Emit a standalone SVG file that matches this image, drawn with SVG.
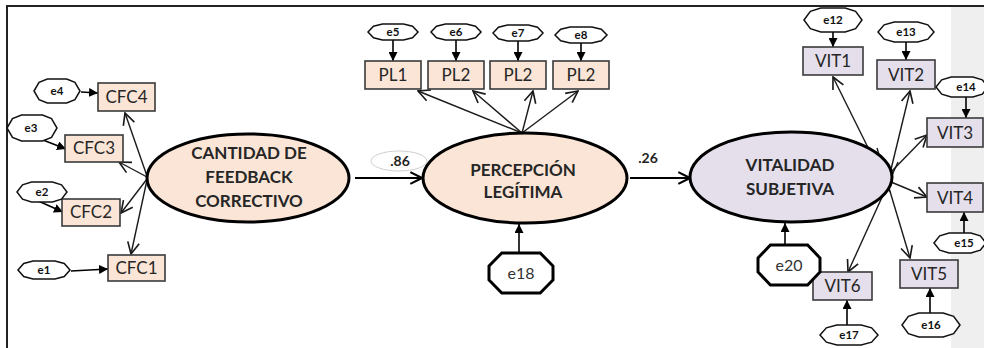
<svg xmlns="http://www.w3.org/2000/svg" xmlns:xlink="http://www.w3.org/1999/xlink" width="984" height="348" viewBox="0 0 984 348">
  <style>
    .latent { stroke: #000; stroke-width: 3; }
    .peach { fill: #fbe5d6; }
    .lilac { fill: #e5dfec; }
    .box { stroke: #3a3a3a; stroke-width: 1.6; }
    .err { fill: #fff; stroke: #111; stroke-width: 1.5; }
    .errBig { fill: #fff; stroke: #000; stroke-width: 3; }
    .title { font-family: Lato, "Open Sans", "DejaVu Sans", sans-serif; font-weight: bold; font-size: 17px; fill: #262626; text-anchor: middle; }
    .lbl { font-family: Lato, "Open Sans", "DejaVu Sans", sans-serif; font-size: 17px; fill: #262626; text-anchor: middle; }
    .elbl { font-family: Lato, "DejaVu Sans", sans-serif; font-weight: bold; font-size: 11.5px; fill: #111; text-anchor: middle; }
    .elblBig { font-family: Lato, "DejaVu Sans", sans-serif; font-size: 16px; fill: #333; text-anchor: middle; }
    .coef { font-family: Lato, "DejaVu Sans", sans-serif; font-weight: bold; font-size: 14px; fill: #222; text-anchor: middle; }
    .path { stroke: #1a1a1a; stroke-width: 1.4; fill: none; marker-end: url(#open); }
    .reg { stroke: #000; stroke-width: 2; fill: none; marker-end: url(#open2); }
    .epath { stroke: #000; stroke-width: 1.6; fill: none; marker-end: url(#solid); }
  </style>
  <defs>
    <!-- open V head for loadings -->
    <marker id="open" markerUnits="userSpaceOnUse" markerWidth="14" markerHeight="14" viewBox="0 0 12 12" refX="11" refY="6" orient="auto">
      <path d="M1,1 L11,6 L1,11" fill="none" stroke="#1a1a1a" stroke-width="1.4"/>
    </marker>
    <marker id="open2" markerUnits="userSpaceOnUse" markerWidth="14" markerHeight="14" viewBox="0 0 12 12" refX="11" refY="6" orient="auto">
      <path d="M1,1 L11,6 L1,11" fill="none" stroke="#000" stroke-width="1.8"/>
    </marker>
    <!-- filled head for error terms -->
    <marker id="solid" markerUnits="userSpaceOnUse" markerWidth="9" markerHeight="9" viewBox="0 0 10 10" refX="10" refY="5" orient="auto">
      <path d="M0,0 L10,5 L0,10 z" fill="#000"/>
    </marker>
    <!-- unit error shapes, scaled per node -->
    <polygon id="eshape" points="-1,0 -0.78,-0.72 -0.42,-1 0.42,-1 0.78,-0.72 1,0 0.78,0.72 0.42,1 -0.42,1 -0.78,0.72" vector-effect="non-scaling-stroke"/>
    <polygon id="oct" points="-1,-0.35 -0.6,-1 0.6,-1 1,-0.35 1,0.35 0.6,1 -0.6,1 -1,0.35" vector-effect="non-scaling-stroke"/>
  </defs>

  <!-- page frame and side panel -->
  <rect x="951" y="7" width="33" height="341" fill="#efefef"/>
  <line x1="6" y1="6" x2="984" y2="6" stroke="#222" stroke-width="2"/>
  <line x1="7" y1="6" x2="7" y2="348" stroke="#222" stroke-width="2"/>

  <!-- connectors -->
  <g id="connectors">
    <!-- structural paths -->
    <line class="reg" x1="355" y1="178" x2="422" y2="178"/>
    <line class="reg" x1="630" y1="178" x2="690" y2="178"/>
    <!-- CFC loadings -->
    <line class="path" x1="147" y1="176" x2="125" y2="113"/>
    <line class="path" x1="147" y1="177" x2="119" y2="162"/>
    <line class="path" x1="147" y1="179" x2="121" y2="213"/>
    <line class="path" x1="147" y1="180" x2="131" y2="254"/>
    <!-- PL loadings -->
    <line class="path" x1="522" y1="133" x2="418" y2="91"/>
    <line class="path" x1="522" y1="133" x2="473" y2="91"/>
    <line class="path" x1="522" y1="133" x2="533" y2="91"/>
    <line class="path" x1="522" y1="133" x2="578" y2="91"/>
    <!-- VIT loadings -->
    <line class="path" x1="890" y1="192" x2="833" y2="77"/>
    <line class="path" x1="886" y1="190" x2="910" y2="91"/>
    <line class="path" x1="891" y1="172" x2="927" y2="135"/>
    <line class="path" x1="891" y1="182" x2="927" y2="197"/>
    <line class="path" x1="877" y1="148" x2="910" y2="258"/>
    <line class="path" x1="898" y1="162" x2="848" y2="272"/>
    <!-- error terms -->
    <line class="epath" x1="71" y1="271" x2="108" y2="269"/>
    <line class="epath" x1="36" y1="200" x2="63" y2="212"/>
    <line class="epath" x1="43" y1="140" x2="66" y2="149"/>
    <line class="epath" x1="81" y1="92" x2="98" y2="93"/>
    <line class="epath" x1="393" y1="40" x2="393" y2="61"/>
    <line class="epath" x1="456" y1="40" x2="456" y2="61"/>
    <line class="epath" x1="518" y1="41" x2="518" y2="61"/>
    <line class="epath" x1="581" y1="43" x2="581" y2="61"/>
    <line class="epath" x1="833" y1="32" x2="833" y2="47"/>
    <line class="epath" x1="906" y1="42" x2="906" y2="60"/>
    <line class="epath" x1="966" y1="97" x2="966" y2="118"/>
    <line class="epath" x1="964" y1="233" x2="964" y2="212"/>
    <line class="epath" x1="930" y1="313" x2="930" y2="288"/>
    <line class="epath" x1="847" y1="325" x2="847" y2="300"/>
    <line class="epath" x1="785" y1="245" x2="785" y2="223"/>
    <line class="epath" x1="519" y1="253" x2="519" y2="224"/>
  </g>

  <!-- path coefficients -->
  <g id="coef86">
    <ellipse cx="399" cy="161" rx="28" ry="10" fill="none" stroke="#cfcfcf" stroke-width="1"/>
    <text class="coef" x="400" y="166">.86</text>
  </g>
  <g id="coef26">
    <text class="coef" x="648" y="163">.26</text>
  </g>

  <!-- latent variables -->
  <g id="cfc">
    <ellipse class="latent peach" cx="248" cy="178" rx="101" ry="44"/>
    <text class="title" x="249" y="159">CANTIDAD DE</text>
    <text class="title" x="249" y="183">FEEDBACK</text>
    <text class="title" x="249" y="207">CORRECTIVO</text>
  </g>
  <g id="pl">
    <ellipse class="latent peach" cx="525" cy="178" rx="102" ry="45"/>
    <text class="title" x="523" y="176">PERCEPCIÓN</text>
    <text class="title" x="523" y="198">LEGÍTIMA</text>
  </g>
  <g id="vit">
    <ellipse class="latent lilac" cx="791" cy="177" rx="101" ry="45"/>
    <text class="title" x="790" y="171">VITALIDAD</text>
    <text class="title" x="790" y="195">SUBJETIVA</text>
  </g>

  <!-- observed indicators -->
  <g id="CFC4"><rect class="box peach" x="98" y="83" width="57" height="28"/><text class="lbl" x="126.5" y="103">CFC4</text></g>
  <g id="CFC3"><rect class="box peach" x="65" y="135" width="58" height="27"/><text class="lbl" x="94" y="154">CFC3</text></g>
  <g id="CFC2"><rect class="box peach" x="62" y="199" width="58" height="27"/><text class="lbl" x="91" y="218">CFC2</text></g>
  <g id="CFC1"><rect class="box peach" x="108" y="255" width="57" height="26"/><text class="lbl" x="136.5" y="274">CFC1</text></g>

  <g id="PL1"><rect class="box peach" x="365" y="61" width="56" height="28"/><text class="lbl" x="393" y="81">PL1</text></g>
  <g id="PL2a"><rect class="box peach" x="428" y="61" width="56" height="28"/><text class="lbl" x="456" y="81">PL2</text></g>
  <g id="PL2b"><rect class="box peach" x="490" y="61" width="56" height="28"/><text class="lbl" x="518" y="81">PL2</text></g>
  <g id="PL2c"><rect class="box peach" x="553" y="61" width="56" height="28"/><text class="lbl" x="581" y="81">PL2</text></g>

  <g id="VIT1"><rect class="box lilac" x="803" y="47" width="60" height="28"/><text class="lbl" x="833" y="67">VIT1</text></g>
  <g id="VIT2"><rect class="box lilac" x="877" y="60" width="58" height="29"/><text class="lbl" x="906" y="81">VIT2</text></g>
  <g id="VIT3"><rect class="box lilac" x="927" y="118" width="56" height="29"/><text class="lbl" x="955" y="139">VIT3</text></g>
  <g id="VIT4"><rect class="box lilac" x="927" y="183" width="56" height="29"/><text class="lbl" x="955" y="204">VIT4</text></g>
  <g id="VIT5"><rect class="box lilac" x="900" y="260" width="58" height="28"/><text class="lbl" x="929" y="280">VIT5</text></g>
  <g id="VIT6"><rect class="box lilac" x="813" y="272" width="59" height="28"/><text class="lbl" x="842.5" y="292">VIT6</text></g>

  <!-- error terms -->
  <g id="e1"><use xlink:href="#eshape" class="err" transform="translate(44 270) scale(26 9)"/><text class="elbl" x="44" y="274">e1</text></g>
  <g id="e2"><use xlink:href="#eshape" class="err" transform="translate(42 192) scale(25 10)"/><text class="elbl" x="42" y="196">e2</text></g>
  <g id="e3"><use xlink:href="#eshape" class="err" transform="translate(32 128) scale(25 13)"/><text class="elbl" x="31" y="132">e3</text></g>
  <g id="e4"><use xlink:href="#eshape" class="err" transform="translate(57 91) scale(23 12)"/><text class="elbl" x="57" y="95">e4</text></g>
  <g id="e5"><use xlink:href="#eshape" class="err" transform="translate(393 32) scale(25 8)"/><text class="elbl" x="393" y="36">e5</text></g>
  <g id="e6"><use xlink:href="#eshape" class="err" transform="translate(456 32) scale(25 8)"/><text class="elbl" x="456" y="36">e6</text></g>
  <g id="e7"><use xlink:href="#eshape" class="err" transform="translate(518 33) scale(25 8)"/><text class="elbl" x="518" y="37">e7</text></g>
  <g id="e8"><use xlink:href="#eshape" class="err" transform="translate(581 35) scale(26 8)"/><text class="elbl" x="581" y="39">e8</text></g>
  <g id="e12"><use xlink:href="#eshape" class="err" transform="translate(833 20) scale(29 12)"/><text class="elbl" x="833" y="24">e12</text></g>
  <g id="e13"><use xlink:href="#eshape" class="err" transform="translate(906 32) scale(28 10)"/><text class="elbl" x="906" y="36">e13</text></g>
  <g id="e14"><use xlink:href="#eshape" class="err" transform="translate(962 87) scale(26 10)"/><text class="elbl" x="966" y="91">e14</text></g>
  <g id="e15"><use xlink:href="#eshape" class="err" transform="translate(960 243) scale(26 10)"/><text class="elbl" x="964" y="247">e15</text></g>
  <g id="e16"><use xlink:href="#eshape" class="err" transform="translate(931 325) scale(29 12)"/><text class="elbl" x="931" y="329">e16</text></g>
  <g id="e17"><use xlink:href="#eshape" class="err" transform="translate(849 335) scale(29 10)"/><text class="elbl" x="849" y="339">e17</text></g>
  <g id="e18"><use xlink:href="#oct" class="errBig" transform="translate(521 273) scale(32 20)"/><text class="elblBig" x="521" y="279">e18</text></g>
  <g id="e20"><use xlink:href="#oct" class="errBig" transform="translate(789 265) scale(31 20)"/><text class="elblBig" x="789" y="271">e20</text></g>
</svg>
